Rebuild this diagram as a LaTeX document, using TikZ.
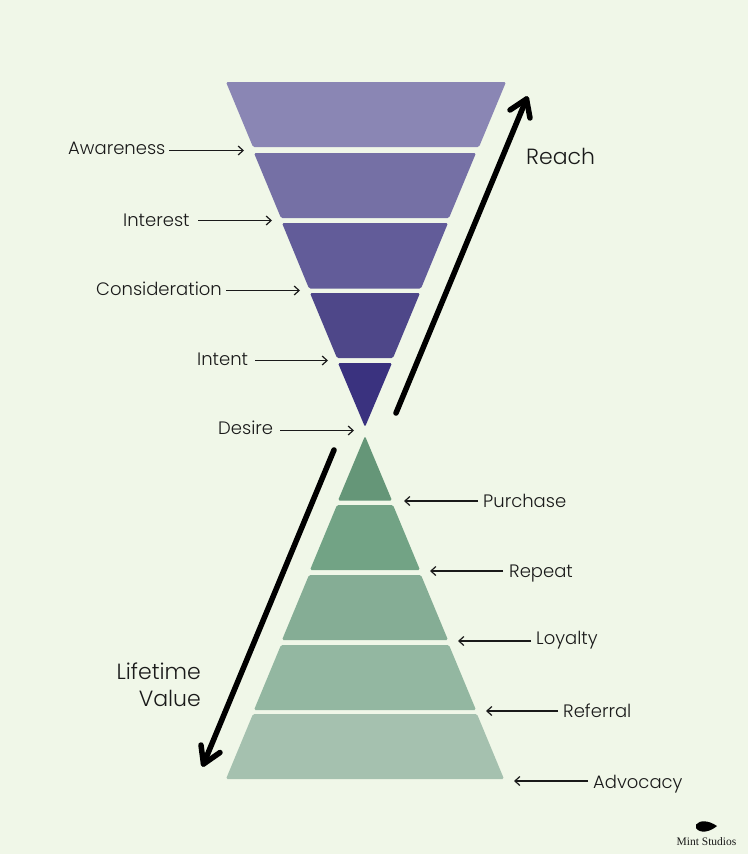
\documentclass[tikz,border=0pt]{standalone}
\usepackage{fontspec}
\setmainfont{Poppins Light}
\newfontfamily\logofont{Liberation Serif}
\usetikzlibrary{arrows.meta}
\definecolor{bgc}{HTML}{F0F7E8}
\definecolor{pa}{HTML}{8A86B4}
\definecolor{pb}{HTML}{7570A5}
\definecolor{pc}{HTML}{625C99}
\definecolor{pd}{HTML}{4E4789}
\definecolor{pe}{HTML}{3A327F}
\definecolor{ga}{HTML}{659678}
\definecolor{gb}{HTML}{72A385}
\definecolor{gc}{HTML}{85AD95}
\definecolor{gd}{HTML}{93B7A1}
\definecolor{ge}{HTML}{A5C1AF}
\definecolor{inkc}{HTML}{1A1A1A}
\tikzset{
  band/.style={rounded corners=1.5pt},
  lab/.style={inner sep=0pt,font=\fontsize{18}{20}\selectfont,text=inkc},
  biglab/.style={inner sep=0pt,font=\fontsize{22}{27}\selectfont,text=inkc},
  thin arrow/.style={draw=inkc,line width=1.2pt,-{Straight Barb[length=5pt,width=9pt,line width=1.2pt]}},
  big arrow/.style={draw=black,line width=5.5pt,line cap=round,line join=round}
}
\begin{document}
\begin{tikzpicture}[x=1pt,y=-1pt]
\fill[bgc] (0,0) rectangle (748,854);
\useasboundingbox (0,0) rectangle (748,854);
% funnel
\fill[pa,band] (226,82) -- (506,82) -- (479,147) -- (253,147) -- cycle;
\fill[pb,band] (254,153) -- (476,153) -- (449,218) -- (281,218) -- cycle;
\fill[pc,band] (282,223) -- (448,223) -- (421,288.5) -- (309,288.5) -- cycle;
\fill[pd,band] (310,293) -- (420,293) -- (393,358) -- (337,358) -- cycle;
\fill[pe,band] (338,363) -- (392,363) -- (365,427) -- cycle;
% pyramid
\fill[ga,band] (365,436) -- (392,500.5) -- (338,500.5) -- cycle;
\fill[gb,band] (337,505) -- (393,505) -- (420,570) -- (310,570) -- cycle;
\fill[gc,band] (309,575) -- (421,575) -- (448,640) -- (282,640) -- cycle;
\fill[gd,band] (281,645) -- (449,645) -- (476,710) -- (254,710) -- cycle;
\fill[ge,band] (253,714) -- (477,714) -- (504,779) -- (226,779) -- cycle;
% labels left
\node[lab,anchor=base west] (aw) at (68,154) {Awareness};
\node[lab,anchor=base west] (in) at (123,226) {Interest};
\node[lab,anchor=base west] (co) at (96,295) {Consideration};
\node[lab,anchor=base west] (it) at (197,365) {Intent};
\node[lab,anchor=base west] (de) at (218,434) {Desire};
% labels right
\node[lab,anchor=base west] (pu) at (483,507) {Purchase};
\node[lab,anchor=base west] (re) at (509,577) {Repeat};
\node[lab,anchor=base west] (lo) at (536,644) {Loyalty};
\node[lab,anchor=base west] (rf) at (563,717) {Referral};
\node[lab,anchor=base west] (ad) at (593,788) {Advocacy};
% targets
\coordinate (taw) at (244,150.5);
\coordinate (tin) at (272,220.5);
\coordinate (tco) at (300,290.5);
\coordinate (tit) at (328,360.5);
\coordinate (tde) at (354,430.5);
\coordinate (tpu) at (404,501);
\coordinate (tre) at (430,571);
\coordinate (tlo) at (458,641);
\coordinate (trf) at (486,711);
\coordinate (tad) at (514,781);
\coordinate (saw) at (169,150.5);
\coordinate (sin) at (198,220.5);
\coordinate (sco) at (226,290.5);
\coordinate (sit) at (255,360.5);
\coordinate (sde) at (280,430.5);
\coordinate (spu) at (478,501);
\coordinate (sre) at (503,571);
\coordinate (slo) at (531,641);
\coordinate (srf) at (558,711);
\coordinate (sad) at (588,781);
\foreach \k in {aw,in,co,it,de,pu,re,lo,rf,ad}{\draw[thin arrow] (s\k) -- (t\k);}
% big arrows
\coordinate (ra) at (396,413);
\coordinate (rb) at (526.5,99);
\coordinate (rl) at (510,110);
\coordinate (rr) at (530,118);
\coordinate (la) at (334,450);
\coordinate (lb) at (203.5,764);
\coordinate (ll) at (201,745);
\coordinate (lr) at (220,752.5);
\draw[big arrow] (ra) -- (rb);
\draw[big arrow] (rl) -- (rb) -- (rr);
\draw[big arrow] (la) -- (lb);
\draw[big arrow] (ll) -- (lb) -- (lr);
\node[biglab,anchor=base west] (reach) at (526,164) {Reach};
\node[biglab,anchor=base east] (lt) at (201,679) {Lifetime};
\node[biglab,anchor=base east] (va) at (201,706) {Value};
% logo
\fill[black] (696,824.5) .. controls (700,820) and (708,820) .. (717,826) .. controls (710,832) and (700,834) .. (696,828) -- cycle;
\node[inner sep=0pt,anchor=base,font=\logofont\fontsize{11.5}{12}\selectfont,text=inkc] (logo) at (706.5,845) {Mint Studios};
\end{tikzpicture}
\end{document}
